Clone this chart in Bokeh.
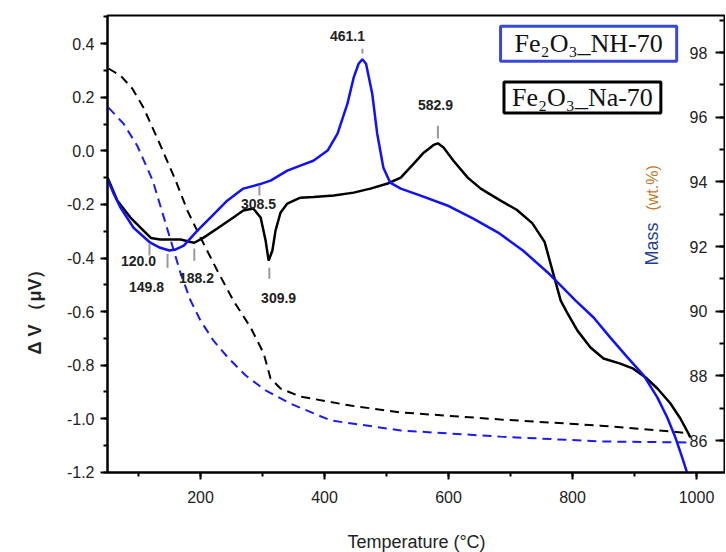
import numpy as np
from bokeh.plotting import figure
from bokeh.models import (Range1d, LinearAxis, SingleIntervalTicker, Label, LabelSet,
                          ColumnDataSource, Title, CustomJSTickFormatter)
from bokeh.core.properties import value
from bokeh.embed import file_html
from bokeh.resources import INLINE

# ---------------- data ----------------
# DTA curve, Fe2O3_NH-70 (blue, solid) : temperature (°C), ΔV (µV)
nh_dta_t = [50, 60, 71, 92, 119, 135, 149.8, 160, 173, 195, 216, 243, 269, 295, 313, 340,
            361, 382, 405, 421, 437, 447, 455, 461.1, 467, 477, 485, 495, 506, 523, 555,
            598, 640, 680, 720, 760, 805, 834, 861, 889, 915, 937, 953, 966, 977, 986]
nh_dta_v = [-0.105, -0.16, -0.212, -0.287, -0.343, -0.362, -0.372, -0.368, -0.354, -0.298,
            -0.249, -0.186, -0.141, -0.125, -0.111, -0.074, -0.055, -0.037, 0.001, 0.064,
            0.176, 0.273, 0.325, 0.342, 0.325, 0.213, 0.064, -0.063, -0.119, -0.141, -0.167,
            -0.204, -0.253, -0.305, -0.372, -0.454, -0.559, -0.622, -0.697, -0.772, -0.839,
            -0.921, -0.996, -1.070, -1.145, -1.21]

# DTA curve, Fe2O3_Na-70 (black, solid)
na_dta_t = [50, 66, 87, 108, 120, 135, 168, 184, 190, 205, 227, 253, 269, 285, 297, 305,
            309.9, 316, 321, 329, 340, 361, 382, 415, 447, 474, 502, 523, 544, 560, 576,
            582.9, 592, 608, 631, 652, 684, 710, 735, 755, 768, 781, 792, 808, 829, 850,
            877, 898, 918, 937, 958, 974, 987, 990]
na_dta_v = [-0.10, -0.186, -0.249, -0.298, -0.325, -0.331, -0.331, -0.340, -0.343, -0.324,
            -0.290, -0.249, -0.223, -0.215, -0.249, -0.335, -0.410, -0.372, -0.298, -0.231,
            -0.197, -0.175, -0.172, -0.167, -0.156, -0.141, -0.122, -0.100, -0.048, -0.007,
            0.022, 0.028, 0.012, -0.037, -0.100, -0.141, -0.186, -0.22, -0.27, -0.34, -0.45,
            -0.559, -0.607, -0.671, -0.734, -0.775, -0.794, -0.813, -0.846, -0.887, -0.943,
            -0.999, -1.055, -1.07]

# TG curve, Fe2O3_Na-70 (black, dashed): mass (wt.%)
na_tg_t = [51.6, 71, 90, 108, 135, 160, 179, 200, 227, 253, 281, 302, 313, 329, 361, 442,
           523, 684, 845, 961, 987]
na_tg_m = [97.51, 97.29, 96.89, 96.30, 95.15, 94.04, 93.11, 92.28, 91.26, 90.33, 89.49,
           88.69, 87.92, 87.61, 87.36, 87.08, 86.87, 86.65, 86.46, 86.28, 86.22]

# TG curve, Fe2O3_NH-70 (blue, dashed)
nh_tg_t = [51.6, 76, 98, 123, 139, 152, 168, 184, 200, 221, 244, 273, 305, 345, 410, 523,
           684, 845, 990]
nh_tg_m = [96.30, 95.80, 95.12, 94.04, 93.02, 92.19, 91.17, 90.33, 89.71, 89.09, 88.57,
           88.01, 87.55, 87.14, 86.62, 86.31, 86.12, 85.97, 85.94]

# peak annotations
ann_text = ["461.1", "582.9", "308.5", "120.0", "149.8", "188.2", "309.9"]
ann_tick_t = [461.1, 582.9, 295, 117.7, 146.8, 190, 311]
ann_tick_y0 = [0.381, 0.094, -0.130, -0.346, -0.384, -0.365, -0.436]
ann_tick_y1 = [0.363, 0.046, -0.167, -0.391, -0.436, -0.410, -0.477]
ann_lab_t = [437, 579, 293.5, 100, 113, 193.5, 326]
ann_lab_y = [0.43, 0.172, -0.197, -0.413, -0.510, -0.473, -0.548]

legend_names = ["Fe\u2082O\u2083_NH-70", "Fe\u2082O\u2083_Na-70"]

FONT = "Liberation Sans"

p = figure(frame_width=618, frame_height=457, output_backend="svg", toolbar_location=None,
           x_range=Range1d(50, 50 + 618 / 0.62), y_range=Range1d(-1.2005, 0.505),
           min_border_left=107, min_border_top=15, min_border_bottom=80, min_border_right=0,
           background_fill_color="white", border_fill_color="white")
p.outline_line_color = "black"
p.outline_line_width = 2
p.grid.visible = False

p.extra_y_ranges = {"mass": Range1d(85.01, 99.15)}

# axes
xa = p.xaxis[0]
xa.ticker = SingleIntervalTicker(interval=200, num_minor_ticks=2)
xa.axis_label = "Temperature (°C)"
xa.axis_label_text_font = FONT
xa.axis_label_text_font_style = "normal"
xa.axis_label_text_font_size = "18px"
xa.axis_label_text_color = "#222222"
xa.axis_label_standoff = 26
ya = p.yaxis[0]
ya.ticker = SingleIntervalTicker(interval=0.2, num_minor_ticks=2)
for ax in (xa, ya):
    ax.axis_line_width = 2
    ax.major_tick_line_width = 2
    ax.minor_tick_line_width = 2
    ax.major_tick_out = 7
    ax.major_tick_in = 0
    ax.minor_tick_out = 4
    ax.minor_tick_in = 0
    ax.major_label_text_font = FONT
    ax.major_label_text_font_size = "16px"
    ax.major_label_text_color = "#222222"
xa.major_label_standoff = 11
ya.major_label_standoff = 6
ya.formatter = CustomJSTickFormatter(code="return tick.toFixed(1);")

ma = LinearAxis(y_range_name="mass",
                ticker=SingleIntervalTicker(interval=2, num_minor_ticks=2))
ma.axis_line_color = "black"
ma.axis_line_width = 2
ma.major_tick_in = 10
ma.major_tick_out = 0
ma.minor_tick_in = 6
ma.minor_tick_out = 0
ma.major_tick_line_width = 2
ma.minor_tick_line_width = 2
ma.major_label_standoff = -36
ma.major_label_text_font = FONT
ma.major_label_text_font_size = "16px"
ma.major_label_text_color = "#222222"
p.add_layout(ma, "right")

# left axis title
p.add_layout(Title(text="Δ V （μV）", align="left", offset=118, text_font=FONT,
                   text_font_style="bold", text_font_size="18px", text_color="#222222",
                   standoff=38), "left")

# curves
p.line(na_tg_t, na_tg_m, y_range_name="mass", line_color="black", line_width=2,
       line_dash="9 6")
p.line(nh_tg_t, nh_tg_m, y_range_name="mass", line_color="#1a1aff", line_width=2,
       line_dash="9 6")
p.line(na_dta_t, na_dta_v, line_color="black", line_width=2.5)
p.line(nh_dta_t, nh_dta_v, line_color="#1010ff", line_width=2.5)

# annotation ticks and numbers
p.segment(x0=ann_tick_t, y0=ann_tick_y0, x1=ann_tick_t, y1=ann_tick_y1,
          line_color="#999999", line_width=2)
src = ColumnDataSource(dict(x=ann_lab_t, y=ann_lab_y, t=ann_text))
p.add_layout(LabelSet(x="x", y="y", text="t", source=src, text_align="center",
                      text_baseline="middle", text_font=value(FONT),
                      text_font_style="bold", text_font_size="14px",
                      text_color="#222222"))

# legend boxes
p.add_layout(Label(x=826, y=0.40, text=legend_names[0], text_align="center",
                   text_baseline="middle", text_font="Liberation Serif",
                   text_font_size="26px", text_color="#111111",
                   border_line_color="#3a48d8", border_line_width=3,
                   background_fill_color="white",
                   padding=dict(left=14, right=14, top=3, bottom=3)))
p.add_layout(Label(x=816, y=0.199, text=legend_names[1], text_align="center",
                   text_baseline="middle", text_font="Liberation Serif",
                   text_font_size="26px", text_color="#111111",
                   border_line_color="black", border_line_width=3,
                   background_fill_color="white",
                   padding=dict(left=8, right=8, top=1, bottom=1)))

# right axis title inside the frame
p.add_layout(Label(x=929, y=-0.428, text="Mass", angle=np.pi / 2,
                   text_align="left", text_baseline="middle", text_font=FONT,
                   text_font_size="18px", text_color="#1f3f99"))
p.add_layout(Label(x=929, y=-0.223, text="(wt.%)", angle=np.pi / 2,
                   text_align="left", text_baseline="middle", text_font=FONT,
                   text_font_size="16px", text_color="#c07a28"))

open("out.html", "w").write(file_html(p, INLINE))
